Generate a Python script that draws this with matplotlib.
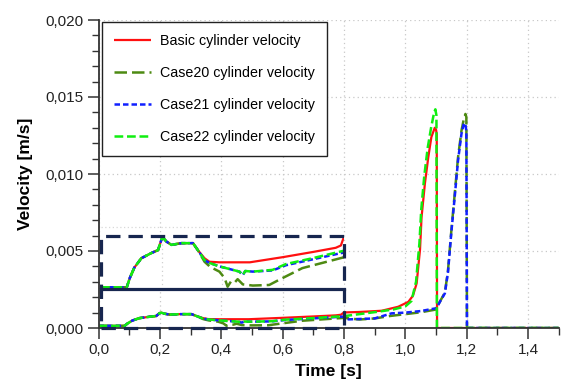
import matplotlib
matplotlib.use("Agg")
import matplotlib.pyplot as plt
from matplotlib.patches import Rectangle
from matplotlib.ticker import MultipleLocator, FuncFormatter

plt.rcParams['font.family'] = ['Liberation Sans', 'DejaVu Sans']

# ---------------- data ----------------
t_basic = [0.0, 0.085, 0.095, 0.11, 0.133, 0.166, 0.188, 0.199, 0.204, 0.215, 0.232, 0.265, 0.303,
           0.319, 0.341, 0.357, 0.39, 0.49, 0.60, 0.70, 0.773, 0.79, 0.80, 0.85, 0.923, 0.977, 1.01,
           1.025, 1.037, 1.048, 1.053, 1.064, 1.075, 1.085, 1.096, 1.100, 1.1025, 1.1035, 1.2, 1.3, 1.4, 1.5]
v_basic = [0.00014, 0.00014, 0.00030, 0.00048, 0.00064, 0.00073, 0.00078, 0.00096, 0.00100, 0.00093,
           0.00087, 0.00090, 0.00090, 0.00078, 0.00064, 0.00058, 0.00057, 0.00057, 0.00066, 0.00075,
           0.00082, 0.00086, 0.00101, 0.00104, 0.00112, 0.00138, 0.00170, 0.0021, 0.0029, 0.0051, 0.0072,
           0.0094, 0.0111, 0.0124, 0.0130, 0.0129, 0.0126, 0.0, 0.0, 0.0, 0.0, 0.0]

t_case20 = [0.0, 0.085, 0.095, 0.11, 0.133, 0.166, 0.188, 0.199, 0.204, 0.215, 0.232, 0.265, 0.303,
            0.319, 0.341, 0.36, 0.39, 0.407, 0.417, 0.428, 0.44, 0.45, 0.467, 0.50, 0.554, 0.587, 0.663,
            0.795, 0.80, 0.85, 0.90, 0.95, 1.0, 1.05, 1.10, 1.107, 1.129, 1.139, 1.15, 1.161, 1.172,
            1.183, 1.191, 1.196, 1.199, 1.201, 1.3, 1.4, 1.5]
v_case20 = [0.00014, 0.00014, 0.00030, 0.00048, 0.00064, 0.00073, 0.00078, 0.00096, 0.00100, 0.00093,
            0.00087, 0.00090, 0.00090, 0.00078, 0.00058, 0.00049, 0.00041, 0.00030, 0.00015, 0.00024,
            0.00022, 0.00028, 0.00019, 0.00017, 0.00018, 0.00027, 0.00047, 0.00065, 0.00066, 0.00055,
            0.00062, 0.00078, 0.00090, 0.00102, 0.00120, 0.00150, 0.00230, 0.00370, 0.00630, 0.00870,
            0.01110, 0.01280, 0.01360, 0.01390, 0.01370, 0.0, 0.0, 0.0, 0.0]

t_case21 = [0.0, 0.085, 0.095, 0.11, 0.133, 0.166, 0.188, 0.199, 0.204, 0.215, 0.232, 0.265, 0.303,
            0.319, 0.341, 0.357, 0.39, 0.456, 0.467, 0.475, 0.50, 0.565, 0.609, 0.696, 0.80, 0.815,
            0.90, 0.955, 1.0, 1.05, 1.10, 1.107, 1.129, 1.139, 1.15, 1.161, 1.172, 1.183, 1.191, 1.196,
            1.199, 1.201, 1.3, 1.4, 1.5]
v_case21 = [0.00014, 0.00014, 0.00030, 0.00048, 0.00064, 0.00073, 0.00078, 0.00096, 0.00100, 0.00093,
            0.00087, 0.00090, 0.00090, 0.00078, 0.00061, 0.00056, 0.00050, 0.00041, 0.00035, 0.00042,
            0.00041, 0.00043, 0.00052, 0.00062, 0.00074, 0.00056, 0.00062, 0.00095, 0.00100, 0.00110,
            0.00128, 0.00150, 0.00225, 0.00360, 0.00620, 0.00850, 0.01090, 0.01260, 0.01330, 0.01320,
            0.01280, 0.0, 0.0, 0.0, 0.0]

t_case22 = [0.0, 0.085, 0.095, 0.11, 0.133, 0.166, 0.188, 0.199, 0.204, 0.215, 0.232, 0.265, 0.303,
            0.319, 0.341, 0.357, 0.39, 0.456, 0.467, 0.475, 0.50, 0.565, 0.609, 0.696, 0.80, 0.85,
            0.912, 0.96, 1.0, 1.02, 1.035, 1.046, 1.052, 1.062, 1.073, 1.084, 1.094, 1.098, 1.1015,
            1.1030, 1.2, 1.3, 1.4, 1.5]
v_case22 = [0.00014, 0.00014, 0.00030, 0.00048, 0.00064, 0.00073, 0.00078, 0.00096, 0.00100, 0.00093,
            0.00087, 0.00090, 0.00090, 0.00078, 0.00061, 0.00056, 0.00050, 0.00041, 0.00035, 0.00042,
            0.00041, 0.00044, 0.00054, 0.00064, 0.00077, 0.00090, 0.00106, 0.00120, 0.00140, 0.00175,
            0.0030, 0.0055, 0.0077, 0.0099, 0.0117, 0.0130, 0.0140, 0.0142, 0.0138, 0.0, 0.0, 0.0, 0.0, 0.0]

labels = ["Basic cylinder velocity", "Case20 cylinder velocity",
          "Case21 cylinder velocity", "Case22 cylinder velocity"]

# ---------------- styling ----------------
styles = [
    dict(color='#ff1010', linestyle='-', lw=1.6),
    dict(color='#4d8a12', linestyle=(0, (5, 2)), lw=1.8),
    dict(color='#1020ff', linestyle=(0, (2.2, 1.2)), lw=1.8),
    dict(color='#10ee10', linestyle=(0, (3.5, 1.5)), lw=1.8),
]
series = [(t_basic, v_basic), (t_case20, v_case20), (t_case21, v_case21), (t_case22, v_case22)]

W, H = 561, 383
fig = plt.figure(figsize=(W / 100, H / 100), dpi=100)
ax_l, ax_r, ax_t, ax_b = 98.5, 558.7, 20.0, 328.0
ax = fig.add_axes([ax_l / W, 1 - ax_b / H, (ax_r - ax_l) / W, (ax_b - ax_t) / H])

for (t, v), st, lab in zip(series, styles, labels):
    ax.plot(t, v, label=lab, solid_capstyle='butt', **st)

ax.set_xlim(0, 1.5)
ax.set_ylim(0, 0.020)
ax.xaxis.set_major_locator(MultipleLocator(0.2))
ax.xaxis.set_minor_locator(MultipleLocator(0.1))
ax.yaxis.set_major_locator(MultipleLocator(0.005))
ax.yaxis.set_minor_locator(MultipleLocator(0.001))
ax.xaxis.set_major_formatter(FuncFormatter(lambda x, p: f"{x:.1f}".replace('.', ',')))
ax.yaxis.set_major_formatter(FuncFormatter(lambda x, p: f"{x:.3f}".replace('.', ',')))
ax.tick_params(which='major', direction='out', length=8, width=1.1, color='#333333',
               labelsize=11, labelcolor='#222222', pad=3)
ax.tick_params(which='minor', direction='out', length=5, width=1.0, color='#333333')
for s in ['top', 'right']:
    ax.spines[s].set_visible(False)
for s in ['left', 'bottom']:
    ax.spines[s].set_color('#333333')
    ax.spines[s].set_linewidth(1.3)
ax.grid(True, which='major', color='#c8c8c8', linestyle=(0, (1, 2.5)), lw=0.9)
ax.set_axisbelow(True)

ax.set_xlabel("Time [s]", fontsize=12.5, fontweight='bold', labelpad=5)
ax.set_ylabel("Velocity [m/s]", fontsize=12.5, fontweight='bold', labelpad=9)

leg = ax.legend(loc='upper left', bbox_to_anchor=(0.007, 0.993), fontsize=10.3, frameon=True,
                fancybox=False, edgecolor='#222222', framealpha=1, handlelength=2.6,
                handletextpad=0.6, labelspacing=1.25, borderpad=0.85, borderaxespad=0.0)
leg.get_frame().set_linewidth(1.0)

# ---------------- zoom box + inset ----------------
navy = '#17264f'
box_x0, box_x1, box_y0, box_y1 = 0.008, 0.8, 0.0, 0.006
ax.plot([box_x0, box_x1], [0.00653, 0.00653], color='#d8d8d8', linestyle=(0, (1, 2)), lw=0.9, zorder=1)

inset_bottom = 0.00253
p0 = ax.transData.transform((box_x0, inset_bottom))
p1 = ax.transData.transform((box_x1, box_y1))
fx0, fy0 = fig.transFigure.inverted().transform(p0)
fx1, fy1 = fig.transFigure.inverted().transform(p1)
ins = fig.add_axes([fx0, fy0, fx1 - fx0, fy1 - fy0])
for (t, v), st in zip(series, styles):
    ins.plot(t, v, solid_capstyle='butt', **st)
ins.set_xlim(0, 0.8)
ins.set_ylim(0.00011, 0.00103)
ins.set_xticks([0.2, 0.4, 0.6])
ins.set_yticks([])
ins.tick_params(length=0, labelbottom=False, labelleft=False)
ins.grid(True, axis='x', color='#d0d0d0', linestyle=(0, (1, 2.5)), lw=0.9)
for s in ['top', 'left', 'right']:
    ins.spines[s].set_visible(False)
ins.spines['bottom'].set_color(navy)
ins.spines['bottom'].set_linewidth(2.3)
ins.set_facecolor('white')

rect = Rectangle((box_x0, box_y0), box_x1 - box_x0, box_y1 - box_y0, fill=False,
                 edgecolor=navy, lw=2.3, linestyle=(0, (4.5, 2.5)), zorder=10,
                 transform=ax.transData, clip_on=False)
fig.add_artist(rect)

fig.savefig("out.png", dpi=100)
